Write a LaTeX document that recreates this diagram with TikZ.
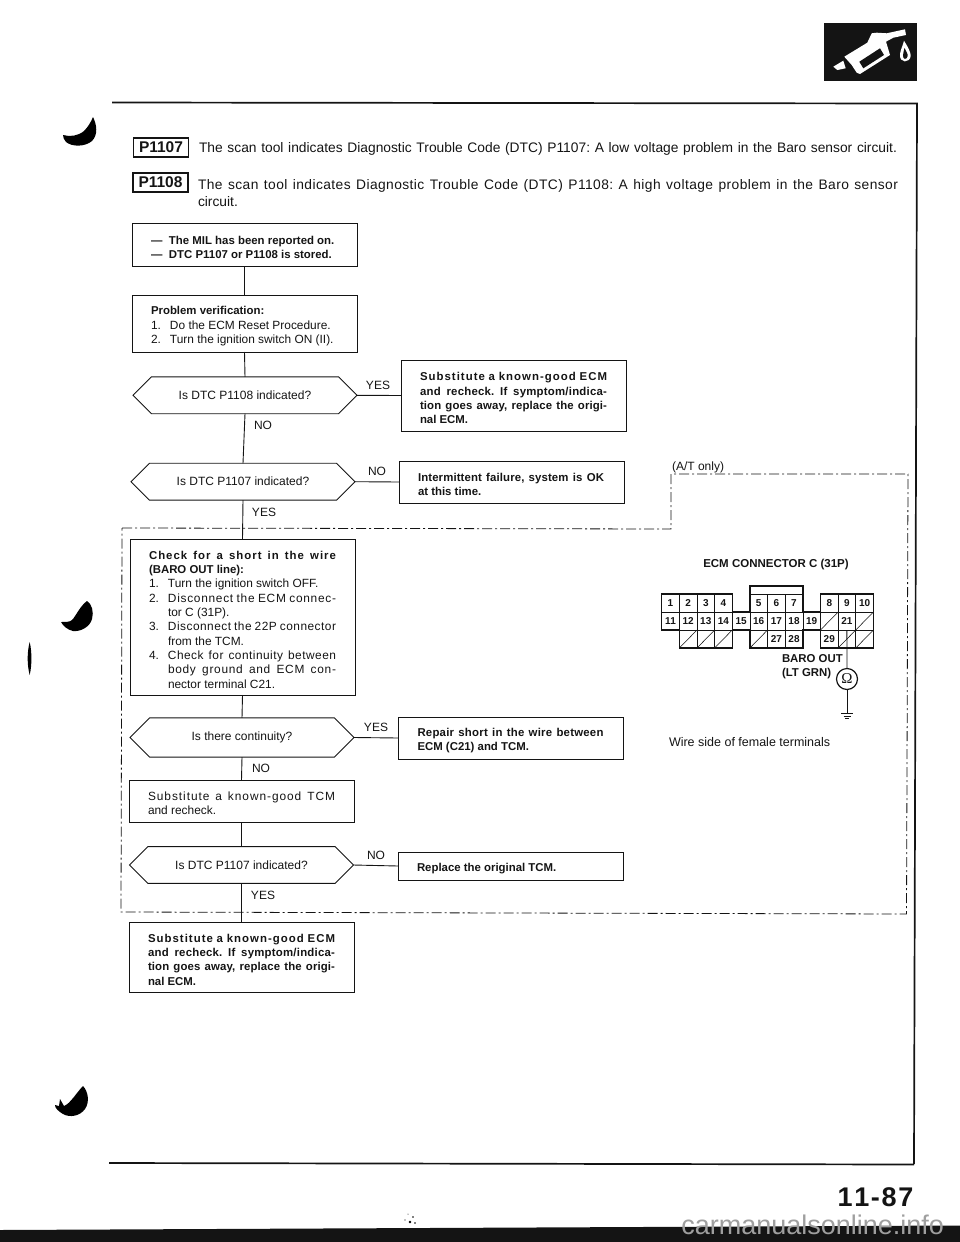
\documentclass[tikz,border=0pt]{standalone}
\usepackage{fontspec}
\setmainfont{Liberation Sans}
\newfontfamily\serifomega{Liberation Serif}
\usetikzlibrary{shapes.misc}
\newdimen\rowwd \rowwd=187pt
\newcommand\rowfix{\spaceskip=0pt\xspaceskip=0pt\frenchspacing}
\newcommand\rowJ[1]{\hbox to\rowwd{\rowfix #1}}
\newcommand\rowL[1]{\hbox to\rowwd{\rowfix #1\hfil}}
\newcommand\numJ[2]{\hbox to\rowwd{\rowfix\hbox to 19pt{#1\hss}#2}}
\newcommand\numL[2]{\hbox to\rowwd{\rowfix\hbox to 19pt{#1\hss}#2\hfil}}
\newcommand\contJ[1]{\hbox to\rowwd{\rowfix\hskip19pt #1}}
\newcommand\contL[1]{\hbox to\rowwd{\rowfix\hskip19pt #1\hfil}}
\newcommand\dashL[1]{\hbox to\rowwd{\rowfix\hbox to 18pt{---\hss}#1\hfil}}
\newcommand\firstrow{\rule{0pt}{13.5pt}}
\newcommand\boldrow{\bfseries\fontsize{11.4}{14.3}\selectfont}
\newcommand\lsp[1]{\addfontfeature{LetterSpace=#1}}
\definecolor{ink}{gray}{0.08}
\tikzset{
  x=1pt,y=-1pt,
  every node/.style={text=ink,inner sep=0pt,outer sep=0pt},
  box/.style={draw=ink,rectangle,line width=.9pt,minimum width=225pt,text width=187pt,font=\fontsize{11.9}{14.3}\selectfont},
  boldbox/.style={box,font=\fontsize{11.4}{14.3}\selectfont\bfseries},
  decision/.style={draw=ink,chamfered rectangle,chamfered rectangle xsep=18.5pt,chamfered rectangle ysep=14pt,line width=.9pt,minimum width=224pt,minimum height=28pt,font=\fontsize{12}{14.3}\selectfont},
  answer/.style={font=\fontsize{12}{14}\selectfont},
  wire/.style={draw=ink,line width=.9pt},
  loopline/.style={draw=ink,line width=.8pt,dash pattern=on 10pt off 3pt on 2pt off 3pt},
  codebox/.style={draw=ink,rectangle,line width=1.3pt,minimum width=55pt,minimum height=19pt,font=\fontsize{15.5}{16}\selectfont\bfseries},
  header/.style={anchor=base west,font=\fontsize{13.8}{15}\selectfont},
  cell/.style={draw=ink,rectangle,line width=.55pt,minimum width=17.64pt,minimum height=18pt,font=\fontsize{10}{11}\selectfont\bfseries},
  plain/.style={anchor=base west,font=\fontsize{12}{14}\selectfont},
  strong/.style={anchor=base west,font=\fontsize{11.4}{14}\selectfont\bfseries},
}
\begin{document}
\begin{tikzpicture}
\useasboundingbox (0,0) rectangle (960,1242);

% page frame, band, icon
\draw[draw=ink,line width=1.7pt] (112,102.5) -- (917,103.5) -- (914,1164);
\draw[draw=ink,line width=1.7pt] (914,1164.5) -- (109,1163);
\fill[ink] (0,1230) -- (960,1225.5) -- (960,1242) -- (0,1242) -- cycle;
\fill[ink] (824,23) rectangle (917,81);
\fill[white] (833.3,66.7) -- (843.3,60.7) -- (845.7,68.3) -- (837.3,70) -- cycle;
\fill[white] (844.3,56.7) -- (867.3,42.7) -- (871.7,33.3) -- (876.7,32.7) -- (886.7,33.3) -- (905,29.3) -- (906,35) -- (893.3,37.7) -- (886,41.7) -- (890,55) -- (860,74) -- (856.7,72.7) -- (851.7,65) -- cycle;
\fill[ink] (859.3,61.7) -- (880,48.3) -- (884,55) -- (863.3,68.3) -- cycle;
\fill[white] (904,40.7) .. controls (908,47) and (911,53) .. (910.7,56) .. controls (910,63) and (899,64) .. (900,54) .. controls (900.5,50) and (903,45) .. (904,40.7) -- cycle;
\fill[ink] (904.5,48) .. controls (906,51) and (908,54) .. (907.7,56) .. controls (907,60) and (902.5,60) .. (903,55) .. controls (903.3,52) and (904.2,50) .. (904.5,48) -- cycle;

% ink marks of the scan
\fill[black] (93,117) .. controls (97,125) and (98,135) .. (92,141) .. controls (85,147) and (72,147) .. (66,142) .. controls (64,140) and (63,137) .. (63,135) .. controls (70,137) and (78,136) .. (84,131) .. controls (88,127) and (91,122) .. (93,117) -- cycle;
\fill[black] (87,601) .. controls (92,604) and (94,612) .. (92,619) .. controls (90,627) and (80,632) .. (73,631) .. controls (68,630) and (63,626) .. (61,622) .. controls (66,622) and (70,622) .. (72,620) .. controls (76,616) and (80,606) .. (87,601) -- cycle;
\fill[black] (29.7,642) .. controls (32,652) and (32,665) .. (29.7,675) .. controls (27,665) and (27,652) .. (29.7,642) -- cycle;
\fill[black] (83,1086) .. controls (88,1091) and (90,1102) .. (85,1109) .. controls (80,1116) and (70,1118) .. (63,1114) .. controls (58,1111) and (55,1108) .. (55,1105) -- (59,1106) -- (60,1099) -- (64,1106) .. controls (70,1104) and (77,1092) .. (83,1086) -- cycle;
\fill[black] (410,1222) circle (1.3pt) (413,1217) circle (.9pt) (405,1220) circle (.6pt) (415,1223) circle (.8pt) (408,1214) circle (.5pt);

% headings
\node[codebox] (p1107) at (161,147.5) {P1107};
\node[codebox] (p1108) at (160.5,182.5) {P1108};
\node[header] (t1) at (199,152) {\hbox to 698pt{\frenchspacing The scan tool indicates Diagnostic Trouble Code (DTC) P1107: A low voltage problem in the Baro sensor circuit.}};
\node[header] (t2) at (198,189) {\hbox to 700pt{\frenchspacing\lsp{3}The scan tool indicates Diagnostic Trouble Code (DTC) P1108: A high voltage problem in the Baro sensor}};
\node[header] (t3) at (198,206) {circuit.};

% A/T only loop
\draw[loopline] (122,528) -- (671,529) -- (671,474) -- (908,474) -- (906.5,914) -- (121,912) -- cycle;
\node[plain] (atonly) at (672,470) {(A/T only)};

% flow boxes
\node[boldbox,minimum height=43pt] (b1) at (244.5,244.5) {\firstrow
\dashL{The MIL has been reported on.}
\dashL{DTC P1107 or P1108 is stored.}};
\node[box,minimum height=57pt] (b2) at (244.5,323.5) {\firstrow
\rowL{\boldrow Problem verification:}
\numL{1.}{Do the ECM Reset Procedure.}
\numL{2.}{Turn the ignition switch ON (II).}};
\node[decision] (d1) at (245,395.3) {Is DTC P1108 indicated?};
\node[boldbox,minimum height=71pt] (b3) at (513.5,395.5) {\firstrow
\rowJ{\lsp{9}Substitute a known-good ECM}
\rowJ{\lsp{2}and recheck. If symptom/indica-}
\rowJ{\lsp{1}tion goes away, replace the origi-}
\rowL{nal ECM.}};
\node[decision] (d2) at (243,481.7) {Is DTC P1107 indicated?};
\node[boldbox,minimum height=42pt] (b4) at (511.5,482) {\firstrow
\hbox to 186pt{\rowfix\lsp{1}Intermittent failure, system is OK}
\rowL{at this time.}};
\node[box,minimum height=156pt] (b5) at (242.5,617) {\firstrow
\rowJ{\boldrow\lsp{9}Check for a short in the wire}
\rowL{\boldrow (BARO OUT line):}
\numL{1.}{Turn the ignition switch OFF.}
\numJ{2.}{\lsp{6}Disconnect the ECM connec-}
\contL{tor C (31P).}
\numJ{3.}{\lsp{4}Disconnect the 22P connector}
\contL{from the TCM.}
\numJ{4.}{\lsp{4}Check for continuity between}
\contJ{\lsp{6}body ground and ECM con-}
\contL{nector terminal C21.}};
\node[decision] (d3) at (242,737.5) {Is there continuity?};
\node[boldbox,minimum height=42pt] (b6) at (511,738) {\firstrow
\hbox to 186pt{\rowfix\lsp{2}Repair short in the wire between}
\rowL{ECM (C21) and TCM.}};
\node[box,minimum height=42pt] (b7) at (241.5,801) {\firstrow
\rowJ{\lsp{8}Substitute a known-good TCM}
\rowL{and recheck.}};
\node[decision] (d4) at (241.5,865) {Is DTC P1107 indicated?};
\node[boldbox,minimum height=28pt] (b8) at (510.5,866) {\firstrow
\rowL{Replace the original TCM.}};
\node[boldbox,minimum height=70pt] (b9) at (241.5,957) {\firstrow
\rowJ{\lsp{9}Substitute a known-good ECM}
\rowJ{\lsp{2}and recheck. If symptom/indica-}
\rowJ{\lsp{1}tion goes away, replace the origi-}
\rowL{nal ECM.}};

% flow connectors
\draw[wire] (b1.south) -- (b2.north);
\draw[wire] (b2.south) -- (d1.north);
\draw[wire] (d1.south) -- (d2.north);
\draw[wire] (d2.south) -- (b5.north);
\draw[wire] (b5.south) -- (d3.north);
\draw[wire] (d3.south) -- (b7.north);
\draw[wire] (b7.south) -- (d4.north);
\draw[wire] (d4.south) -- (b9.north);
\draw[wire] (d1.east) -- (b3.west);
\draw[wire] (d2.east) -- (b4.west);
\draw[wire] (d3.east) -- (b6.west);
\draw[wire] (d4.east) -- (b8.west);

% answers
\node[answer] (a1) at (378,385) {YES};
\node[answer] (a2) at (263,425) {NO};
\node[answer] (a3) at (377,471) {NO};
\node[answer] (a4) at (264,512) {YES};
\node[answer] (a5) at (376,727) {YES};
\node[answer] (a6) at (261,768) {NO};
\node[answer] (a7) at (376,855) {NO};
\node[answer] (a8) at (263,895) {YES};

% connector
\node[anchor=center,font=\fontsize{11.5}{13}\selectfont\bfseries] (ecm) at (776,565) {ECM CONNECTOR C (31P)};
\foreach \c/\r/\t in {0/0/1,1/0/2,2/0/3,3/0/4,5/0/5,6/0/6,7/0/7,9/0/8,10/0/9,11/0/10,
  0/1/11,1/1/12,2/1/13,3/1/14,4/1/15,5/1/16,6/1/17,7/1/18,8/1/19,10/1/21,
  6/2/27,7/2/28,9/2/29}
  \node[cell] (pin\t) at ({661.7+17.64*\c+8.82},{594+18*\r+9}) {\t};
\foreach \c/\r in {9/1,11/1,1/2,2/2,3/2,5/2,10/2,11/2}{
  \node[cell] (h\c x\r) at ({661.7+17.64*\c+8.82},{594+18*\r+9}) {};
  \draw[draw=ink,line width=.55pt] (h\c x\r.south west) -- (h\c x\r.north east);
}
\draw[draw=ink,line width=1.4pt] (661.7,594) -- (732.3,594) -- (732.3,612) -- (750,612) -- (750,586) -- (802.9,586) -- (802.9,612) -- (820.5,612) -- (820.5,594) -- (873.4,594) -- (873.4,648) -- (820.5,648) -- (820.5,630) -- (802.9,630) -- (802.9,648) -- (750,648) -- (750,630) -- (732.3,630) -- (732.3,648) -- (679.3,648) -- (679.3,630) -- (661.7,630) -- cycle;
\node[strong] (baro) at (782,662) {BARO OUT};
\node[strong] (grn) at (782,676) {(LT GRN)};
\node[draw=ink,circle,line width=1.2pt,minimum size=21pt,font=\fontsize{15}{16}\selectfont\serifomega] (ohm) at (847,679) {Ω};
\coordinate (gnd) at (847,713.5);
\draw[wire] (h10x2.north) -- (ohm.north);
\draw[wire] (ohm.south) -- (gnd);
\draw[draw=ink,line width=.8pt] (841,713.5) -- (853,713.5) (843.5,716) -- (850.5,716) (845,718.3) -- (849,718.3);
\node[plain,font=\fontsize{12.5}{14}\selectfont] (wireside) at (669,746) {Wire side of female terminals};

% page number and source line
\node[anchor=east,font=\fontsize{27}{28}\selectfont\bfseries] (page) at (913.5,1197) {\hbox to 76pt{1\hfil 1\hfil -\hfil 8\hfil 7}};
\node[anchor=east,text=gray!75,font=\fontsize{27}{28}\selectfont] (site) at (944,1225) {carmanualsonline.info};
\end{tikzpicture}
\end{document}
